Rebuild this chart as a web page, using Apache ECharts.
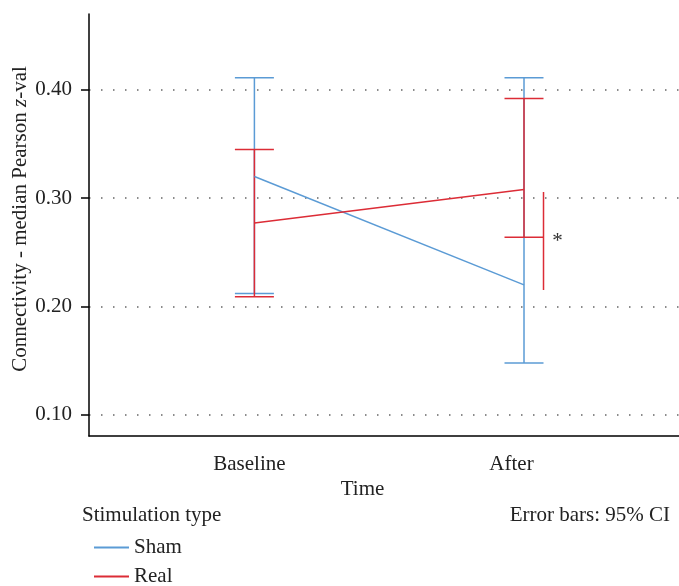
<!DOCTYPE html>
<html>
<head>
<meta charset="utf-8">
<script src="https://cdn.jsdelivr.net/npm/echarts@6/dist/echarts.min.js"></script>
<style>html,body{margin:0;padding:0;background:#fff}#c{width:679px;height:586px}</style>
</head>
<body>
<div id="c"></div>
<script>
// ---- data ----
const categories = ['Baseline', 'After'];
const seriesNames = ['Sham', 'Real'];
const shamMean = [0.320, 0.220];
const realMean = [0.277, 0.308];
const shamLow = [0.212, 0.148];
const shamHigh = [0.411, 0.411];
const realLow = [0.209, 0.264];
const realHigh = [0.345, 0.392];
const sigRange = [0.2153, 0.3057]; // bracket beside Real / After
const sigLabel = '*';
const yTicks = [0.10, 0.20, 0.30, 0.40];

const FONT = 'Liberation Serif';
const FS = 21;
const BLUE = '#5b9bd5';
const RED = '#dc2c36';
const CAP = 19.5;

const chart = echarts.init(document.getElementById('c'));

function meanData(arr) { return arr.map((v, i) => [i, v]); }
function ciData(lo, hi) { return lo.map((v, i) => [i, v, hi[i]]); }

function errRender(color) {
  return function (params, api) {
    const x = api.value(0);
    const top = api.coord([x, api.value(2)]);
    const bot = api.coord([x, api.value(1)]);
    const st = { stroke: color, lineWidth: 1.5 };
    return {
      type: 'group',
      children: [
        { type: 'line', shape: { x1: top[0], y1: top[1], x2: bot[0], y2: bot[1] }, style: st },
        { type: 'line', shape: { x1: top[0] - CAP, y1: top[1], x2: top[0] + CAP, y2: top[1] }, style: st },
        { type: 'line', shape: { x1: bot[0] - CAP, y1: bot[1], x2: bot[0] + CAP, y2: bot[1] }, style: st }
      ]
    };
  };
}

const legendCommon = {
  orient: 'vertical',
  left: 89,
  itemWidth: 35,
  itemHeight: 2,
  icon: 'rect',
  textStyle: { fontFamily: FONT, fontSize: FS, color: '#222' }
};

const option = {
  animation: false,
  backgroundColor: '#fff',
  grid: { left: 89, right: 0, top: 14, bottom: 150, containLabel: false, outerBoundsMode: 'none' },
  xAxis: {
    type: 'value',
    min: -0.6135,
    max: 1.5749,
    axisLine: { onZero: false, lineStyle: { color: '#000', width: 1.5 } },
    axisTick: { show: false },
    splitLine: { show: false },
    axisLabel: {
      customValues: [0, 1],
      margin: 18,
      formatter: function (v) {
        const i = Math.round(v);
        return i === 0 ? '{b|' + categories[0] + '}' : '{a|' + categories[1] + '}';
      },
      rich: {
        b: { fontFamily: FONT, fontSize: FS, color: '#222', padding: [0, 10, 0, 0] },
        a: { fontFamily: FONT, fontSize: FS, color: '#222', padding: [0, 25, 0, 0] }
      }
    },
    name: 'Time',
    nameLocation: 'middle',
    nameGap: 43,
    nameMoveOverlap: false,
    nameTextStyle: { fontFamily: FONT, fontSize: FS, color: '#222', padding: [0, 43, 0, 0] }
  },
  yAxis: {
    type: 'value',
    min: 0.0806,
    max: 0.4699,
    axisLine: { show: true, onZero: false, lineStyle: { color: '#000', width: 1.5 } },
    axisTick: { show: true, customValues: yTicks, length: 8, lineStyle: { color: '#000', width: 1.5 } },
    axisLabel: {
      customValues: yTicks,
      margin: 17,
      fontFamily: FONT, fontSize: FS, color: '#222',
      formatter: v => v.toFixed(2)
    },
    splitLine: { show: true, lineStyle: { color: '#666', width: 1.5, type: [1.5, 10.5] } },
    name: 'Connectivity - median Pearson {i|z}-val',
    nameLocation: 'middle',
    nameGap: 58,
    nameMoveOverlap: false,
    nameTextStyle: {
      fontFamily: FONT, fontSize: FS, color: '#222', padding: [0, 0, 0, 12],
      rich: { i: { fontFamily: FONT, fontSize: FS, fontStyle: 'italic', color: '#222' } }
    }
  },
  legend: [
    Object.assign({ data: [seriesNames[0]], top: 532 }, legendCommon),
    Object.assign({ data: [seriesNames[1]], top: 561 }, legendCommon)
  ],
  graphic: [
    { type: 'text', left: 82, top: 505, style: { text: 'Stimulation type', font: FS + 'px "Liberation Serif"', fill: '#222' } },
    { type: 'text', right: 9, top: 505, style: { text: 'Error bars: 95% CI', font: FS + 'px "Liberation Serif"', fill: '#222' } }
  ],
  series: [
    {
      name: seriesNames[0], type: 'custom', renderItem: errRender(BLUE),
      data: ciData(shamLow, shamHigh), encode: { x: 0, y: [1, 2] }, itemStyle: { color: BLUE }, z: 2
    },
    {
      name: seriesNames[1], type: 'custom', renderItem: errRender(RED),
      data: ciData(realLow, realHigh), encode: { x: 0, y: [1, 2] }, itemStyle: { color: RED }, z: 3
    },
    {
      name: seriesNames[0], type: 'line', data: meanData(shamMean), symbol: 'none',
      lineStyle: { color: BLUE, width: 1.5 }, itemStyle: { color: BLUE }, z: 4
    },
    {
      name: seriesNames[1], type: 'line', data: meanData(realMean), symbol: 'none',
      lineStyle: { color: RED, width: 1.5 }, itemStyle: { color: RED }, z: 5
    },
    {
      name: 'sig', type: 'custom',
      data: [[1, sigRange[0], sigRange[1]]],
      encode: { x: 0, y: [1, 2] },
      renderItem: function (params, api) {
        const x = api.value(0);
        const a = api.coord([x, api.value(2)]);
        const b = api.coord([x, api.value(1)]);
        return {
          type: 'group',
          children: [
            { type: 'line', shape: { x1: a[0] + CAP, y1: a[1], x2: b[0] + CAP, y2: b[1] }, style: { stroke: RED, lineWidth: 1.5 } },
            { type: 'text', x: a[0] + CAP + 14, y: (a[1] + b[1]) / 2, style: { text: sigLabel, font: FS + 'px "Liberation Serif"', fill: '#333', align: 'center', verticalAlign: 'middle' } }
          ]
        };
      },
      z: 6
    }
  ]
};
chart.setOption(option);
</script>
</body>
</html>
